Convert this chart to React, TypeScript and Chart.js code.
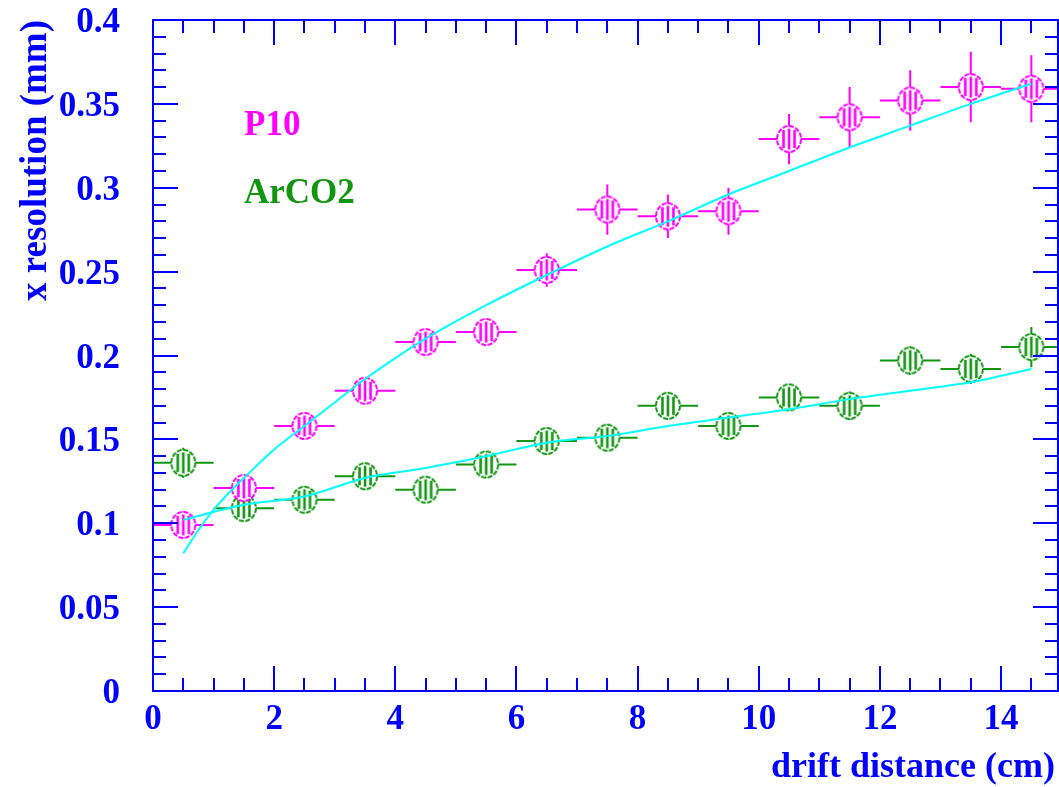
import React, { useEffect, useRef } from 'react';
import { Chart, registerables } from 'chart.js';

Chart.register(...registerables);

// ---- data ----
const driftCenters = [0.5, 1.5, 2.5, 3.5, 4.5, 5.5, 6.5, 7.5, 8.5, 9.5, 10.5, 11.5, 12.5, 13.5, 14.5];
const binHalfWidths = [0.5, 0.5, 0.5, 0.5, 0.5, 0.5, 0.5, 0.5, 0.5, 0.5, 0.5, 0.5, 0.5, 0.5, 0.5];

const p10Values = [0.099, 0.121, 0.158, 0.179, 0.208, 0.214, 0.251, 0.287, 0.283, 0.286, 0.329, 0.342, 0.352, 0.360, 0.359];
const p10Errors = [0.008, 0.006, 0.006, 0.006, 0.006, 0.006, 0.010, 0.015, 0.013, 0.014, 0.015, 0.018, 0.018, 0.021, 0.020];

const arco2Values = [0.136, 0.109, 0.114, 0.128, 0.120, 0.135, 0.149, 0.151, 0.170, 0.158, 0.175, 0.170, 0.197, 0.192, 0.205];
const arco2Errors = [0.009, 0.007, 0.008, 0.008, 0.007, 0.008, 0.008, 0.008, 0.008, 0.008, 0.008, 0.0085, 0.0085, 0.009, 0.012];

const p10FitX = [0.5, 0.75, 1, 1.25, 1.5, 2, 2.5, 3, 3.5, 4.5, 5.5, 6.5, 7.5, 8.5, 9.5, 10.5, 11.5, 12.5, 13.5, 14.5];
const p10FitY = [0.082, 0.096, 0.108, 0.118, 0.127, 0.144, 0.158, 0.172, 0.186, 0.210, 0.230, 0.248, 0.265, 0.280, 0.296, 0.310, 0.324, 0.337, 0.350, 0.362];

const arco2FitX = [0.5, 1.5, 2.5, 3.5, 4.5, 5.5, 6.5, 7.5, 8.5, 9.5, 10.5, 11.5, 12.5, 13.5, 14.5];
const arco2FitY = [0.102, 0.111, 0.116, 0.127, 0.133, 0.140, 0.148, 0.152, 0.158, 0.163, 0.168, 0.174, 0.179, 0.184, 0.192];

const xTickValues = [0, 2, 4, 6, 8, 10, 12, 14];
const xTickLabels = ['0', '2', '4', '6', '8', '10', '12', '14'];
const yTickValues = [0, 0.05, 0.1, 0.15, 0.2, 0.25, 0.3, 0.35, 0.4];
const yTickLabels = ['0', '0.05', '0.1', '0.15', '0.2', '0.25', '0.3', '0.35', '0.4'];

const seriesNames = ['P10', 'ArCO2'];

// ---- styles ----
const BLUE = '#0000ff';
const MAGENTA = '#ff00ff';
const GREEN = '#129612';
const CYAN = '#00ffff';
const SERIF = '"Liberation Serif", "DejaVu Serif", serif';

function makeMarker(color: string): HTMLCanvasElement {
  const c = document.createElement('canvas');
  c.width = 30;
  c.height = 32;
  const g = c.getContext('2d')!;
  const cx = 15, cy = 16, rx = 12, ry = 13;
  g.beginPath();
  g.ellipse(cx, cy, rx, ry, 0, 0, Math.PI * 2);
  g.fillStyle = '#ffffff';
  g.fill();
  g.setLineDash([5, 1.5]);
  g.lineWidth = 2;
  g.strokeStyle = color;
  g.stroke();
  g.setLineDash([]);
  g.lineWidth = 2.6;
  for (const dx of [-5.5, 0, 5.5]) {
    const h = ry * Math.sqrt(1 - (dx / rx) * (dx / rx)) - 2.5;
    g.beginPath();
    g.moveTo(cx + dx, cy - h);
    g.lineTo(cx + dx, cy + h);
    g.stroke();
  }
  return c;
}

const errorBarPlugin = {
  id: 'errorBars',
  beforeDatasetsDraw(chart: any) {
    const { ctx, chartArea } = chart;
    const xs = chart.scales.x;
    const ys = chart.scales.y;
    ctx.save();
    ctx.beginPath();
    ctx.rect(chartArea.left, chartArea.top, chartArea.right - chartArea.left, chartArea.bottom - chartArea.top);
    ctx.clip();
    ctx.lineWidth = 2;
    const sets = [
      { v: p10Values, e: p10Errors, c: MAGENTA },
      { v: arco2Values, e: arco2Errors, c: GREEN },
    ];
    for (const s of sets) {
      ctx.strokeStyle = s.c;
      for (let i = 0; i < driftCenters.length; i++) {
        const x = xs.getPixelForValue(driftCenters[i]);
        const xl = xs.getPixelForValue(driftCenters[i] - binHalfWidths[i]);
        const xr = xs.getPixelForValue(driftCenters[i] + binHalfWidths[i]);
        const y = ys.getPixelForValue(s.v[i]);
        const yt = ys.getPixelForValue(s.v[i] + s.e[i]);
        const yb = ys.getPixelForValue(s.v[i] - s.e[i]);
        ctx.beginPath();
        ctx.moveTo(xl, y);
        ctx.lineTo(xr, y);
        ctx.moveTo(x, yt);
        ctx.lineTo(x, yb);
        ctx.stroke();
      }
    }
    ctx.restore();
  },
};

const framePlugin = {
  id: 'rootFrame',
  afterDatasetsDraw(chart: any) {
    const { ctx, chartArea } = chart;
    const { left, right, top, bottom } = chartArea;
    const xs = chart.scales.x;
    const ys = chart.scales.y;
    ctx.save();
    ctx.strokeStyle = BLUE;
    ctx.lineWidth = 2;
    ctx.beginPath();
    ctx.rect(left, top, right - left, bottom - top);
    ctx.stroke();
    const MAJ = 25, MIN = 13;
    ctx.beginPath();
    for (let k = 0; k <= 29; k++) {
      const v = k * 0.5;
      if (v > xs.max) break;
      const len = k % 4 === 0 ? MAJ : MIN;
      const px = Math.round(xs.getPixelForValue(v));
      ctx.moveTo(px, bottom);
      ctx.lineTo(px, bottom - len);
      ctx.moveTo(px, top);
      ctx.lineTo(px, top + len);
    }
    for (let k = 0; k <= 40; k++) {
      const v = k * 0.01;
      const len = k % 5 === 0 ? MAJ : MIN;
      const py = Math.round(ys.getPixelForValue(v));
      ctx.moveTo(left, py);
      ctx.lineTo(left + len, py);
      ctx.moveTo(right, py);
      ctx.lineTo(right - len, py);
    }
    ctx.stroke();
    ctx.restore();
  },
  afterDraw(chart: any) {
    const { ctx } = chart;
    ctx.save();
    ctx.font = `bold 35px ${SERIF}`;
    ctx.textBaseline = 'alphabetic';
    ctx.textAlign = 'left';
    ctx.fillStyle = MAGENTA;
    ctx.fillText(seriesNames[0], 244, 135);
    ctx.fillStyle = GREEN;
    ctx.fillText(seriesNames[1], 244, 203);

    ctx.fillStyle = BLUE;
    ctx.font = `bold 36px ${SERIF}`;
    ctx.textAlign = 'right';
    ctx.fillText('drift distance (cm)', 1055, 777);

    ctx.font = `bold 37px ${SERIF}`;
    ctx.translate(46, 20);
    ctx.rotate(-Math.PI / 2);
    ctx.textAlign = 'right';
    ctx.fillText('x resolution (mm)', 0, 0);
    ctx.restore();
  },
};

function labelFor(values: number[], labels: string[], v: number): string {
  for (let i = 0; i < values.length; i++) {
    if (Math.abs(values[i] - v) < 1e-6) return labels[i];
  }
  return '';
}

export default function App() {
  const ref = useRef<HTMLCanvasElement | null>(null);

  useEffect(() => {
    if (!ref.current) return;
    const markerP10 = makeMarker(MAGENTA);
    const markerAr = makeMarker(GREEN);
    const tickFont = { family: SERIF, size: 35, weight: 'bold' as const };

    const chart = new Chart(ref.current, {
      type: 'scatter',
      data: {
        datasets: [
          {
            type: 'line',
            label: 'P10 fit',
            data: p10FitX.map((x, i) => ({ x, y: p10FitY[i] })),
            borderColor: CYAN,
            borderWidth: 2,
            pointRadius: 0,
            fill: false,
            tension: 0.3,
            order: 0,
          },
          {
            type: 'line',
            label: 'ArCO2 fit',
            data: arco2FitX.map((x, i) => ({ x, y: arco2FitY[i] })),
            borderColor: CYAN,
            borderWidth: 2,
            pointRadius: 0,
            fill: false,
            tension: 0.3,
            order: 0,
          },
          {
            label: seriesNames[1],
            data: driftCenters.map((x, i) => ({ x, y: arco2Values[i] })),
            pointStyle: markerAr,
            pointRadius: 12,
            order: 2,
          },
          {
            label: seriesNames[0],
            data: driftCenters.map((x, i) => ({ x, y: p10Values[i] })),
            pointStyle: markerP10,
            pointRadius: 12,
            order: 1,
          },
        ],
      } as any,
      options: {
        animation: false,
        responsive: false,
        devicePixelRatio: 1,
        layout: { autoPadding: false, padding: { left: 0, top: 20, right: 1, bottom: 0 } },
        plugins: {
          legend: { display: false },
          tooltip: { enabled: false },
        },
        scales: {
          x: {
            type: 'linear',
            min: 0,
            max: 14.94,
            afterFit: (s: any) => {
              s.height = 96;
              s.paddingLeft = 0;
              s.paddingRight = 0;
              s.paddingTop = 0;
              s.paddingBottom = 0;
            },
            afterBuildTicks: (s: any) => { s.ticks = xTickValues.map((v) => ({ value: v })); },
            grid: { display: false, drawTicks: false },
            border: { display: false },
            ticks: {
              font: tickFont,
              color: BLUE,
              padding: 8,
              maxRotation: 0,
              autoSkip: false,
              callback: (v: any) => labelFor(xTickValues, xTickLabels, Number(v)),
            },
          },
          y: {
            type: 'linear',
            min: 0,
            max: 0.4,
            afterFit: (s: any) => {
              s.width = 153;
              s.paddingLeft = 0;
              s.paddingRight = 0;
              s.paddingTop = 0;
              s.paddingBottom = 0;
            },
            afterBuildTicks: (s: any) => { s.ticks = yTickValues.map((v) => ({ value: v })); },
            grid: { display: false, drawTicks: false },
            border: { display: false },
            ticks: {
              font: tickFont,
              color: BLUE,
              padding: 33,
              labelOffset: 3,
              autoSkip: false,
              callback: (v: any) => labelFor(yTickValues, yTickLabels, Number(v)),
            },
          },
        },
      } as any,
      plugins: [errorBarPlugin, framePlugin],
    });
    return () => chart.destroy();
  }, []);

  return (
    <div style={{ position: 'fixed', left: 0, top: 0, width: 1059, height: 787, background: '#ffffff' }}>
      <canvas ref={ref} width={1059} height={787} style={{ display: 'block' }} />
    </div>
  );
}
